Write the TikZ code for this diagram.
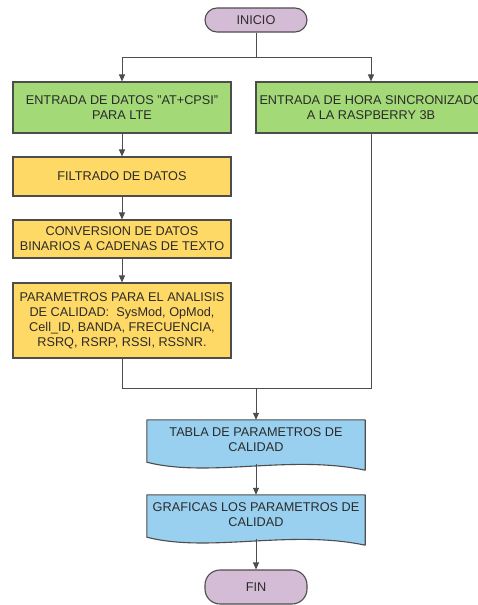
\documentclass[tikz,border=0pt]{standalone}
\usepackage{fontspec}
\setmainfont{Liberation Sans}
\usetikzlibrary{arrows.meta,calc}

\definecolor{termfill}{HTML}{D5BCD6}
\definecolor{inputfill}{HTML}{A3D977}
\definecolor{procfill}{HTML}{FFD966}
\definecolor{docfill}{HTML}{99D0F0}
\definecolor{edgegray}{HTML}{4D4D4D}
\definecolor{txtgray}{HTML}{2B2B2B}

\tikzset{
  boxbase/.style={rectangle, draw=edgegray, line width=1.1pt, inner sep=0pt,
    align=center, text=txtgray, font=\fontsize{12.7}{15}\selectfont},
  term/.style={boxbase, fill=termfill, minimum width=102pt},
  inbox/.style={boxbase, fill=inputfill, minimum height=51pt},
  procbox/.style={boxbase, fill=procfill, minimum width=218pt},
  docframe/.style={rectangle, inner sep=0pt, minimum width=218pt, minimum height=50pt},
  docshape/.style={draw=edgegray, line width=1.1pt, fill=docfill, line join=round},
  doctext/.style={inner sep=0pt, align=center, text=txtgray, font=\fontsize{12.7}{15}\selectfont},
  conn/.style={draw=edgegray, line width=1pt},
  arr/.style={conn, -{Triangle[length=7pt,width=6pt]}},
}

\begin{document}
\begin{tikzpicture}[x=1pt,y=-1pt]
\clip (0,0) rectangle (478,605);
\fill[white] (0,0) rectangle (478,605);

% terminals and process boxes
\node[term, minimum height=24pt, rounded corners=12pt] (inicio) at (256,20) {INICIO};
\node[inbox, minimum width=218pt] (datos) at (122,107.5) {ENTRADA DE DATOS "AT+CPSI"\\PARA LTE};
\node[inbox, minimum width=230pt] (hora) at (371,107.5) {ENTRADA DE HORA SINCRONIZADO\\A LA RASPBERRY 3B};
\node[procbox, minimum height=39pt] (filtrado) at (122,176.5) {FILTRADO DE DATOS};
\node[procbox, minimum height=38pt] (conversion) at (122,239) {CONVERSION DE DATOS\\BINARIOS A CADENAS DE TEXTO};
\node[procbox, minimum height=75pt] (parametros) at (122,320.5)
  {PARAMETROS PARA EL ANALISIS\\DE CALIDAD:\ \ SysMod, OpMod,\\Cell\_ID, BANDA, FRECUENCIA,\\RSRQ, RSRP, RSSI, RSSNR.};

% document shapes
\node[docframe] (tabla) at (256,445) {};
\path[docshape] (tabla.north west) -- (tabla.north east) -- (tabla.south east)
  .. controls ($(tabla.south west)+(143,-16)$) and ($(tabla.south west)+(63,8)$) ..
  ($(tabla.south west)+(0,-8)$) -- cycle;
\node[doctext] (tablatxt) at ($(tabla.center)+(0,-5.5)$) {TABLA DE PARAMETROS DE\\CALIDAD};

\node[docframe] (grafica) at (256,520) {};
\path[docshape] (grafica.north west) -- (grafica.north east) -- (grafica.south east)
  .. controls ($(grafica.south west)+(143,-16)$) and ($(grafica.south west)+(63,8)$) ..
  ($(grafica.south west)+(0,-8)$) -- cycle;
\node[doctext] (graficatxt) at ($(grafica.center)+(0,-5.5)$) {GRAFICAS LOS PARAMETROS DE\\CALIDAD};

\node[term, minimum height=34pt, rounded corners=15pt] (fin) at (256,587) {FIN};

% connectors
\coordinate (split) at (256,57);
\coordinate (merge) at (256,388);
\draw[conn] (inicio.south) -- (split);
\draw[arr] (split) -| (datos.north);
\draw[arr] (split) -| (hora.north);
\draw[arr] (datos.south) -- (filtrado.north);
\draw[arr] (filtrado.south) -- (conversion.north);
\draw[arr] (conversion.south) -- (parametros.north);
\draw[conn] (parametros.south) |- (merge);
\draw[conn] (hora.south) |- (merge);
\draw[arr] (merge) -- (tabla.north);
\draw[arr] ($(tabla.south)+(0,-6)$) -- (grafica.north);
\draw[arr] ($(grafica.south)+(0,-6)$) -- (fin.north);
\end{tikzpicture}
\end{document}
